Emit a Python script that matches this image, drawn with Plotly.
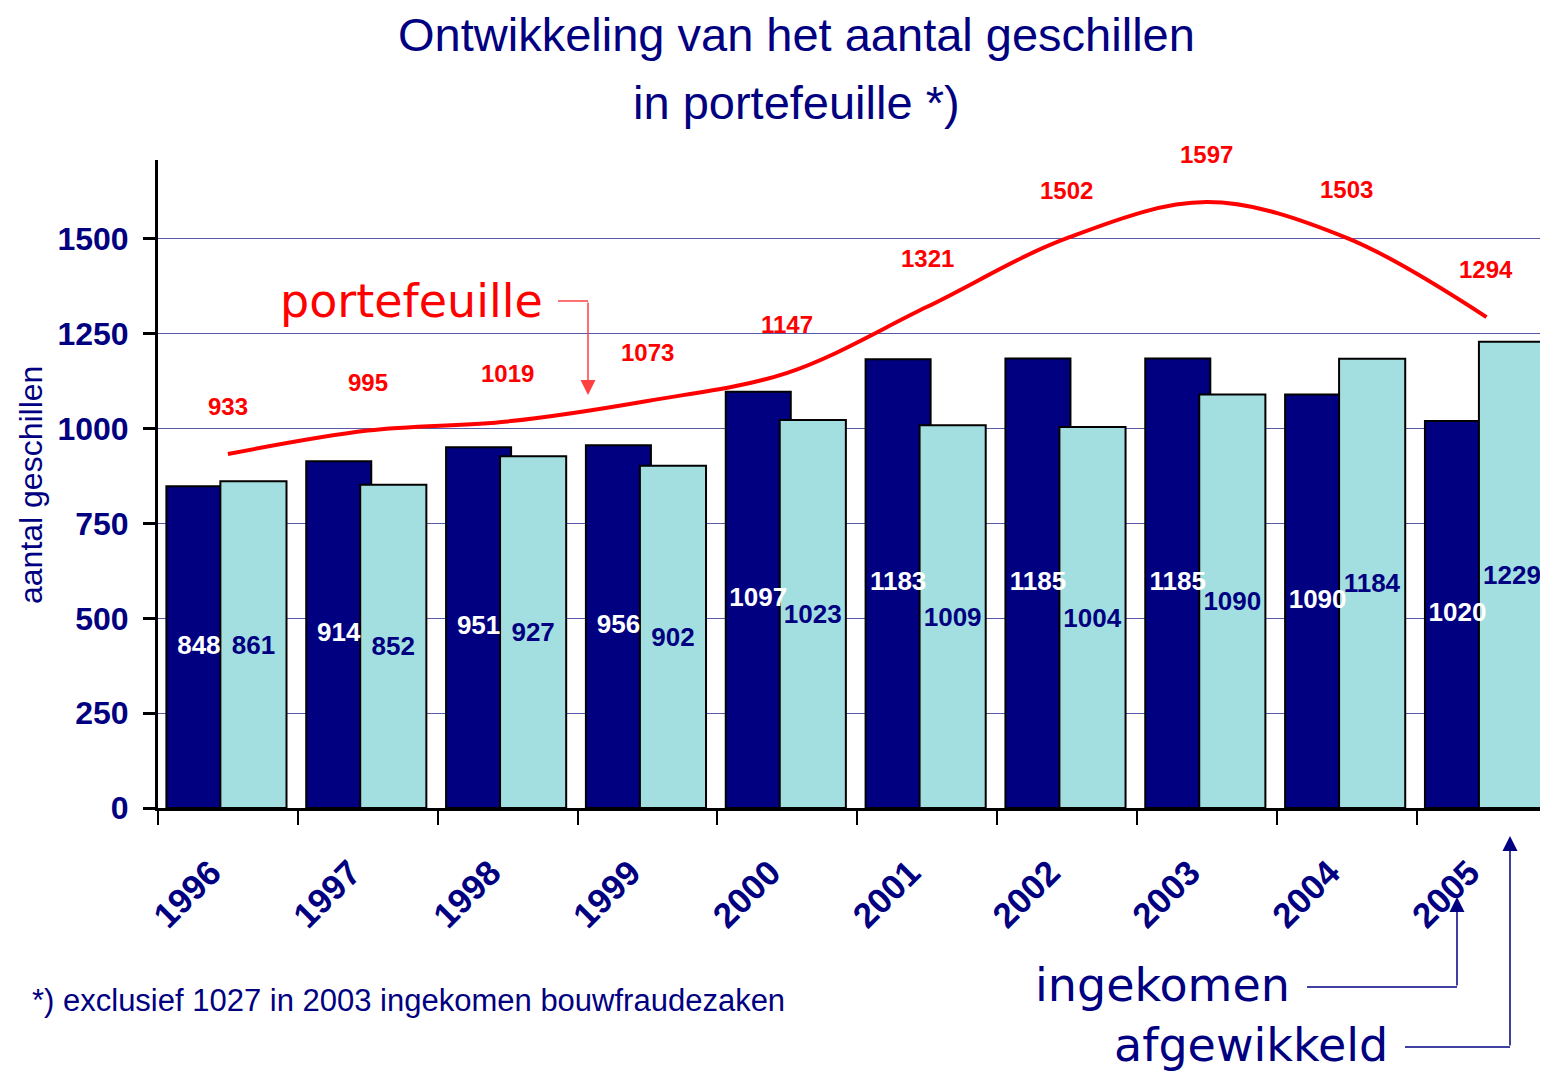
import plotly.graph_objects as go

# gegevens
jaren = ['1996', '1997', '1998', '1999', '2000', '2001', '2002', '2003', '2004', '2005']
ingekomen = [848, 914, 951, 956, 1097, 1183, 1185, 1185, 1090, 1020]
afgewikkeld = [861, 852, 927, 902, 1023, 1009, 1004, 1090, 1184, 1229]
portefeuille = [933, 995, 1019, 1073, 1147, 1321, 1502, 1597, 1503, 1294]

NAVY = '#000080'
CYAAN = '#a3dfe0'
ROOD = '#ff0000'
ARIAL = 'Liberation Sans, Arial'
VERDANA = 'DejaVu Sans, Verdana'

# de pagina heeft 8px marge, dus alles 8px verschoven
OFF = 8
L, T, W, H = 158 - OFF, 160 - OFF, 1390, 648


def px(x):
    return (x - OFF - L) / W


def py(y):
    return (T + H - (y - OFF)) / H


pos = list(range(len(jaren)))

# staven: donker links, licht erover heen iets naar rechts
OFF_D, W_D = -0.44, 0.465
OFF_L, W_L = -0.054, 0.473

fig = go.Figure()

fig.add_trace(go.Bar(
    x=pos, y=ingekomen, name='ingekomen',
    offset=OFF_D, width=W_D,
    marker=dict(color=NAVY, line=dict(color='black', width=2)),
))

fig.add_trace(go.Bar(
    x=pos, y=afgewikkeld, name='afgewikkeld',
    offset=OFF_L, width=W_L,
    marker=dict(color=CYAAN, line=dict(color='black', width=2)),
    text=afgewikkeld, textposition='inside', insidetextanchor='middle',
    textangle=0, constraintext='none',
    textfont=dict(family=ARIAL, size=26, color=NAVY, weight='bold'),
))

# labels van de donkere staven bovenop alles
fig.add_trace(go.Scatter(
    x=[p + OFF_D + W_D / 2 for p in pos], y=[v / 2 for v in ingekomen],
    mode='text', text=[str(v) for v in ingekomen], hoverinfo='skip',
    textfont=dict(family=ARIAL, size=26, color='white', weight='bold'),
))

fig.add_trace(go.Scatter(
    x=pos, y=portefeuille, name='portefeuille',
    mode='lines',
    line=dict(color=ROOD, width=4, shape='spline', smoothing=1),
))

# labels boven de lijn
for x, v in zip(pos, portefeuille):
    fig.add_annotation(
        x=x, y=v, xref='x', yref='y', text=str(v), showarrow=False,
        yshift=48, font=dict(family=ARIAL, size=24, color=ROOD, weight='bold'),
    )


def tekst(x, y, s, font, xanchor='center', angle=0):
    fig.add_annotation(x=px(x), y=py(y), xref='paper', yref='paper',
                       xanchor=xanchor, yanchor='middle', textangle=angle,
                       text=s, showarrow=False, font=font)


# titel
tekst(796, 35, 'Ontwikkeling van het aantal geschillen', dict(family=ARIAL, size=47, color=NAVY))
tekst(796, 103, 'in portefeuille *)', dict(family=ARIAL, size=47, color=NAVY))

# as-titel
tekst(31, 485, 'aantal geschillen', dict(family=ARIAL, size=32, color=NAVY), angle=-90)

# voetnoot
tekst(30, 1001, '*) exclusief 1027 in 2003 ingekomen bouwfraudezaken',
      dict(family=ARIAL, size=31, color=NAVY), xanchor='left')

# toelichtingen met pijlen
tekst(545, 301, 'portefeuille', dict(family=VERDANA, size=46, color=ROOD), xanchor='right')
tekst(1292, 985, 'ingekomen', dict(family=VERDANA, size=46, color=NAVY), xanchor='right')
tekst(1390, 1045, 'afgewikkeld', dict(family=VERDANA, size=46, color=NAVY), xanchor='right')

lijnen = [
    (558, 301, 588, 301, '#ff4040'),
    (1307, 987, 1457, 987, NAVY),
    (1405, 1047, 1510, 1047, NAVY),
]
for x0, y0, x1, y1, c in lijnen:
    fig.add_shape(type='line', xref='paper', yref='paper',
                  x0=px(x0), y0=py(y0), x1=px(x1), y1=py(y1),
                  line=dict(color=c, width=1.5))

pijlen = [
    (588, 395, 301, '#ff4040'),
    (1457, 897, 987, NAVY),
    (1510, 836, 1047, NAVY),
]
for x, tip, staart, c in pijlen:
    fig.add_annotation(x=px(x), y=py(tip), xref='paper', yref='paper',
                       ax=0, ay=staart - tip, text='', showarrow=True,
                       arrowhead=2, arrowsize=2, arrowwidth=1.5, arrowcolor=c)

fig.update_layout(
    width=1548 - OFF, height=1072 - OFF,
    margin=dict(l=L, r=0, t=T, b=1072 - OFF - T - H, pad=0),
    barmode='overlay',
    showlegend=False,
    plot_bgcolor='white',
    paper_bgcolor='white',
    xaxis=dict(
        range=[-0.5, 9.44],
        tickmode='array', tickvals=pos, ticktext=jaren,
        tickangle=-45, ticks='',
        ticklabelstandoff=27, ticklabelshift=-17,
        tickfont=dict(family=ARIAL, size=35, color=NAVY, weight='bold'),
        minor=dict(tickmode='array', tickvals=[p - 0.5 for p in range(11)],
                   ticks='outside', ticklen=14, tickwidth=2, tickcolor='black'),
        showline=True, linecolor='black', linewidth=3,
        showgrid=False, zeroline=False,
    ),
    yaxis=dict(
        range=[0, 1708], tick0=0, dtick=250,
        ticks='outside', ticklen=12, tickwidth=3, tickcolor='black',
        ticklabelstandoff=8,
        tickfont=dict(family=ARIAL, size=32, color=NAVY, weight='bold'),
        showline=True, linecolor='black', linewidth=3,
        showgrid=True, gridcolor='#5a5aaa', gridwidth=1,
        zeroline=False,
    ),
)

fig.write_html('out.html')
